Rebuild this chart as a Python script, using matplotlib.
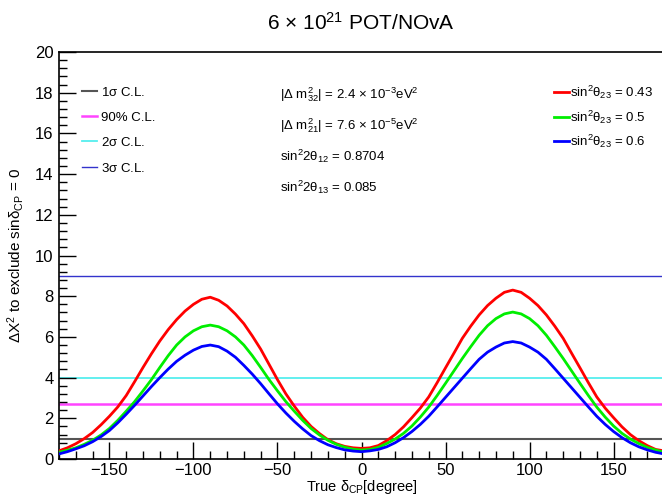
import numpy as np
import matplotlib
matplotlib.use('Agg')
import matplotlib.pyplot as plt
from matplotlib.ticker import MultipleLocator

plt.rcParams['font.family'] = ['Liberation Sans', 'DejaVu Sans']
plt.rcParams['mathtext.fontset'] = 'custom'
plt.rcParams['mathtext.rm'] = 'Liberation Sans'
plt.rcParams['mathtext.it'] = 'Liberation Sans'
plt.rcParams['mathtext.bf'] = 'Liberation Sans:bold'

## true delta_CP in degrees, read every 5 degrees
delta_cp = list(range(-180, 185, 5))

## delta chi2 to exclude sin(delta_CP) = 0, one list per sin^2(theta23)
chi2_043 = [0.40, 0.55, 0.75, 1.00, 1.30, 1.68, 2.10, 2.56, 3.12, 3.80,
            4.50, 5.17, 5.80, 6.36, 6.85, 7.27, 7.60, 7.85, 7.95, 7.80,
            7.52, 7.12, 6.65, 6.05, 5.40, 4.65, 3.90, 3.20, 2.60, 2.05,
            1.60, 1.25, 0.95, 0.75, 0.62, 0.55, 0.52, 0.55, 0.66, 0.90,
            1.20, 1.58, 2.03, 2.50, 3.05, 3.75, 4.48, 5.20, 5.93, 6.53,
            7.08, 7.54, 7.90, 8.19, 8.30, 8.19, 7.90, 7.54, 7.08, 6.53,
            5.93, 5.20, 4.48, 3.75, 3.05, 2.50, 2.03, 1.58, 1.20, 0.90,
            0.66, 0.47, 0.40]
chi2_050 = [0.33, 0.43, 0.55, 0.72, 0.92, 1.18, 1.50, 1.90, 2.35, 2.82,
            3.35, 3.90, 4.50, 5.08, 5.60, 6.00, 6.30, 6.50, 6.58, 6.50,
            6.30, 6.00, 5.60, 5.08, 4.50, 3.90, 3.35, 2.82, 2.35, 1.90,
            1.50, 1.18, 0.92, 0.72, 0.58, 0.48, 0.44, 0.47, 0.57, 0.76,
            0.98, 1.26, 1.62, 2.06, 2.55, 3.12, 3.72, 4.33, 4.94, 5.52,
            6.08, 6.55, 6.90, 7.13, 7.22, 7.13, 6.90, 6.55, 6.08, 5.52,
            4.94, 4.33, 3.72, 3.12, 2.55, 2.06, 1.62, 1.26, 0.98, 0.76,
            0.57, 0.44, 0.33]
chi2_060 = [0.25, 0.36, 0.50, 0.65, 0.85, 1.10, 1.40, 1.78, 2.20, 2.64,
            3.10, 3.56, 4.00, 4.42, 4.80, 5.10, 5.35, 5.53, 5.60, 5.52,
            5.30, 5.00, 4.60, 4.17, 3.70, 3.20, 2.71, 2.26, 1.85, 1.48,
            1.15, 0.90, 0.70, 0.56, 0.45, 0.39, 0.36, 0.40, 0.47, 0.60,
            0.80, 1.05, 1.35, 1.70, 2.10, 2.56, 3.03, 3.50, 3.97, 4.44,
            4.90, 5.25, 5.50, 5.70, 5.77, 5.70, 5.50, 5.25, 4.90, 4.44,
            3.97, 3.50, 3.03, 2.56, 2.10, 1.70, 1.35, 1.05, 0.80, 0.60,
            0.45, 0.33, 0.25]

## confidence level lines
cl_values = [1.0, 2.71, 4.0, 9.0]
cl_labels = [r'1$\sigma$ C.L.', '90% C.L.', r'2$\sigma$ C.L.', r'3$\sigma$ C.L.']
cl_colors = ['#555555', '#ff44ff', '#55eeee', '#3333cc']
cl_widths = [1.5, 1.8, 1.3, 1.0]

curve_labels = [r'sin$^{2}\theta_{23}$ = 0.43', r'sin$^{2}\theta_{23}$ = 0.5',
                r'sin$^{2}\theta_{23}$ = 0.6']
curve_colors = ['#ff0000', '#00ee00', '#0000ff']

fig = plt.figure(figsize=(6.62, 4.96), dpi=100)
ax = fig.add_axes([59/662, 1 - 459/496, 605/662, 407/496])

cl_handles = []
for v, c, w in zip(cl_values, cl_colors, cl_widths):
    h = ax.axhline(v, color=c, lw=w, zorder=1)
    cl_handles.append(h)

curve_handles = []
for y, c in zip([chi2_043, chi2_050, chi2_060], curve_colors):
    h, = ax.plot(delta_cp, y, color=c, lw=2, zorder=3)
    curve_handles.append(h)

ax.set_xlim(-180, 180)
ax.set_ylim(0, 20)
ax.xaxis.set_major_locator(MultipleLocator(50))
ax.xaxis.set_minor_locator(MultipleLocator(10))
ax.yaxis.set_major_locator(MultipleLocator(2))
ax.yaxis.set_minor_locator(MultipleLocator(0.4))
ax.tick_params(which='both', direction='in', labelsize=12, top=False, right=False, width=1)
ax.tick_params(which='major', length=12, pad=3)
ax.tick_params(which='minor', length=6)
ax.tick_params(axis='y', which='major', pad=4)
for s in ax.spines.values():
    s.set_linewidth(1.2)
ax.spines['right'].set_visible(False)

ax.set_xlabel(r'True $\delta_{CP}$[degree]', fontsize=10.5, labelpad=0)
ax.set_ylabel(r'$\Delta$X$^{2}$ to exclude sin$\delta_{CP}$ = 0', fontsize=11, labelpad=6)

fig.text(0.545, 0.953, r'6 $\times$ 10$^{21}$ POT/NOvA', ha='center', va='center', fontsize=15)

leg1 = ax.legend(cl_handles, cl_labels, loc='upper left', bbox_to_anchor=(0.03, 0.93),
                 frameon=False, fontsize=9.5, handlelength=1.1, handletextpad=0.3,
                 labelspacing=0.95, borderaxespad=0)
ax.add_artist(leg1)
ax.legend(curve_handles, curve_labels, loc='upper left', bbox_to_anchor=(0.81, 0.935),
          frameon=False, fontsize=9.5, handlelength=1.1, handletextpad=0.1,
          labelspacing=0.55, borderaxespad=0)

info = [r'|$\Delta$ m$^{2}_{32}$| = 2.4 $\times$ 10$^{-3}$eV$^{2}$',
        r'|$\Delta$ m$^{2}_{21}$| = 7.6 $\times$ 10$^{-5}$eV$^{2}$',
        r'sin$^{2}$2$\theta_{12}$ = 0.8704',
        r'sin$^{2}$2$\theta_{13}$ = 0.085']
for i, t in enumerate(info):
    ax.text(0.366, 0.895 - i * 0.076, t, transform=ax.transAxes, fontsize=9.5, va='center')

fig.savefig('out.png', dpi=100)
